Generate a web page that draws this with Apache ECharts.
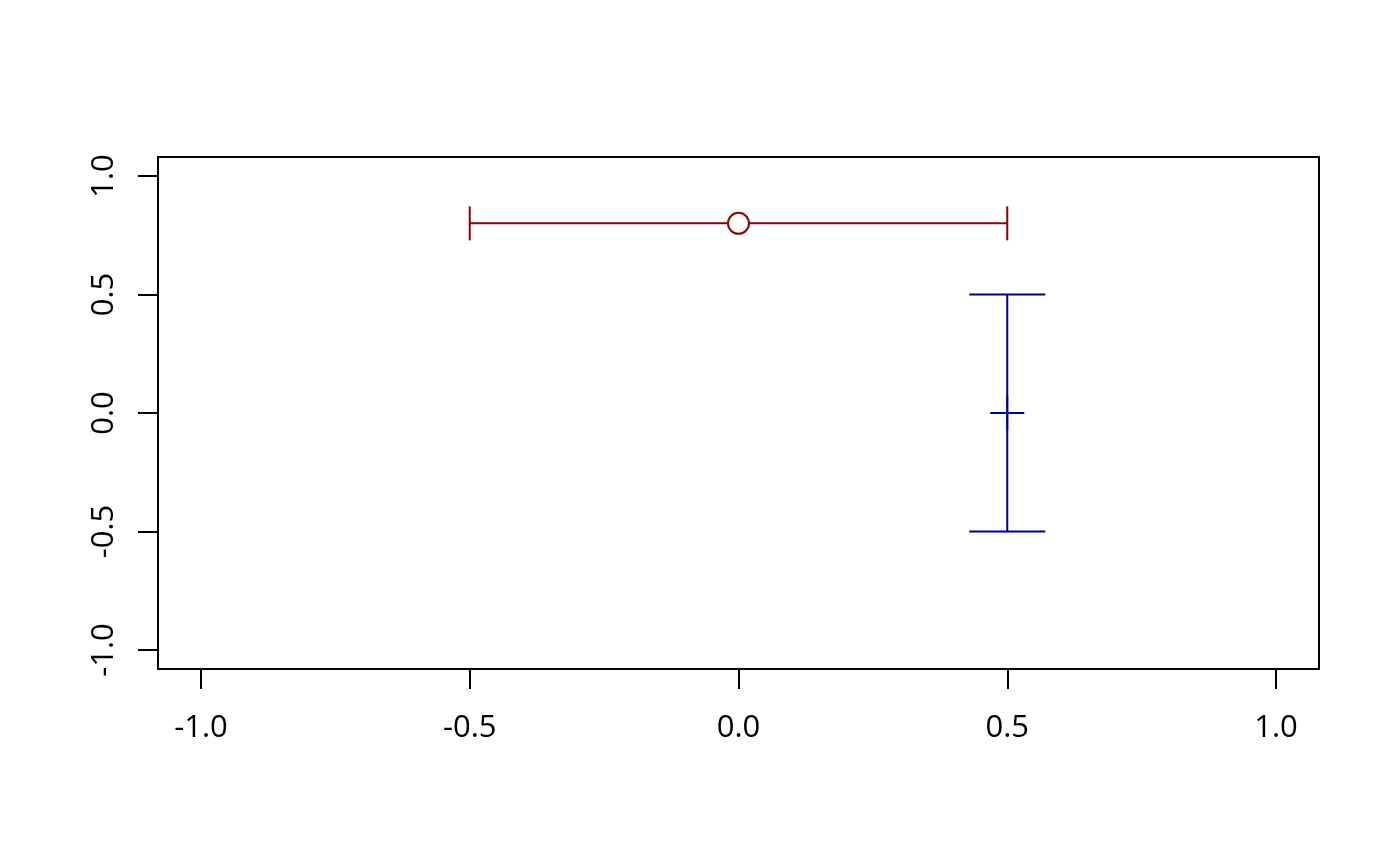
<!DOCTYPE html>
<html>
  <head>
    <meta charset="UTF-8">
    <title>Error bars</title>
    <script src="https://cdn.jsdelivr.net/npm/echarts@6/dist/echarts.min.js"></script>
    <style>
      html, body { margin: 0; padding: 0; background: #fff; }
    </style>
  </head>
  <body>
    <div id="box" style="width:1400px;height:866px"></div>
    <script>
        // data
        var hPoint = [0, 0.8];          // red point, horizontal bar
        var hRange = [-0.5, 0.5];       // red bar from / to (x)
        var vPoint = [0.5, 0];          // blue point, vertical bar
        var vRange = [-0.5, 0.5];       // blue bar from / to (y)
        var tickValues = [-1, -0.5, 0, 0.5, 1];
        var tickLabels = ['-1.0', '-0.5', '0.0', '0.5', '1.0'];
        var axisMin = -1.08, axisMax = 1.08;   // R pads the range by 4%

        var red = '#8B0000', blue = '#00008B';
        var font = '"Open Sans", "DejaVu Sans", sans-serif';

        function fmt(v) {
            var i = tickValues.indexOf(Math.round(v * 100) / 100);
            return i < 0 ? '' : tickLabels[i];
        }

        var myChart = echarts.init(document.getElementById('box'));
        myChart.setOption({
            animation: false,
            backgroundColor: '#fff',
            grid: {
                left: 158, right: 81, top: 157, bottom: 197,
                show: true, borderColor: '#000', borderWidth: 2,
                backgroundColor: 'transparent'
            },
            xAxis: {
                type: 'value', min: axisMin, max: axisMax,
                axisLine: {show: true, onZero: false, lineStyle: {color: '#000', width: 2}},
                axisTick: {show: true, customValues: tickValues, length: 20, lineStyle: {color: '#000', width: 2}},
                axisLabel: {customValues: tickValues, formatter: fmt, margin: 44,
                            color: '#000', fontSize: 31, fontFamily: font},
                splitLine: {show: false}
            },
            yAxis: {
                type: 'value', min: axisMin, max: axisMax,
                axisLine: {show: true, onZero: false, lineStyle: {color: '#000', width: 2}},
                axisTick: {show: true, customValues: tickValues, length: 20, lineStyle: {color: '#000', width: 2}},
                axisLabel: {customValues: tickValues, formatter: fmt, margin: 38, rotate: 90,
                            color: '#000', fontSize: 31, fontFamily: font},
                splitLine: {show: false}
            },
            series: [
                {   // horizontal error bar (red)
                    type: 'custom',
                    data: [[hRange[0], hRange[1], hPoint[1]]],
                    renderItem: function (params, api) {
                        var a = api.coord([api.value(0), api.value(2)]);
                        var b = api.coord([api.value(1), api.value(2)]);
                        var cap = 17;
                        var st = {stroke: red, lineWidth: 2};
                        return {type: 'group', children: [
                            {type: 'line', shape: {x1: a[0], y1: a[1], x2: b[0], y2: b[1]}, style: st},
                            {type: 'line', shape: {x1: a[0], y1: a[1] - cap, x2: a[0], y2: a[1] + cap}, style: st},
                            {type: 'line', shape: {x1: b[0], y1: b[1] - cap, x2: b[0], y2: b[1] + cap}, style: st}
                        ]};
                    },
                    z: 2
                },
                {   // vertical error bar (blue)
                    type: 'custom',
                    data: [[vPoint[0], vRange[0], vRange[1]]],
                    renderItem: function (params, api) {
                        var a = api.coord([api.value(0), api.value(1)]);
                        var b = api.coord([api.value(0), api.value(2)]);
                        var cap = 38;
                        var st = {stroke: blue, lineWidth: 2};
                        return {type: 'group', children: [
                            {type: 'line', shape: {x1: a[0], y1: a[1], x2: b[0], y2: b[1]}, style: st},
                            {type: 'line', shape: {x1: a[0] - cap, y1: a[1], x2: a[0] + cap, y2: a[1]}, style: st},
                            {type: 'line', shape: {x1: b[0] - cap, y1: b[1], x2: b[0] + cap, y2: b[1]}, style: st}
                        ]};
                    },
                    z: 2
                },
                {   // red open circle
                    type: 'scatter',
                    data: [hPoint],
                    symbol: 'circle', symbolSize: 21,
                    itemStyle: {color: '#fff', borderColor: red, borderWidth: 2, opacity: 1},
                    z: 3
                },
                {   // blue plus
                    type: 'custom',
                    data: [vPoint],
                    renderItem: function (params, api) {
                        var p = api.coord([api.value(0), api.value(1)]);
                        var s = 17;
                        var st = {stroke: blue, lineWidth: 2};
                        return {type: 'group', children: [
                            {type: 'line', shape: {x1: p[0] - s, y1: p[1], x2: p[0] + s, y2: p[1]}, style: st},
                            {type: 'line', shape: {x1: p[0], y1: p[1] - s, x2: p[0], y2: p[1] + s}, style: st}
                        ]};
                    },
                    z: 3
                }
            ]
        });
    </script>
  </body>
</html>
